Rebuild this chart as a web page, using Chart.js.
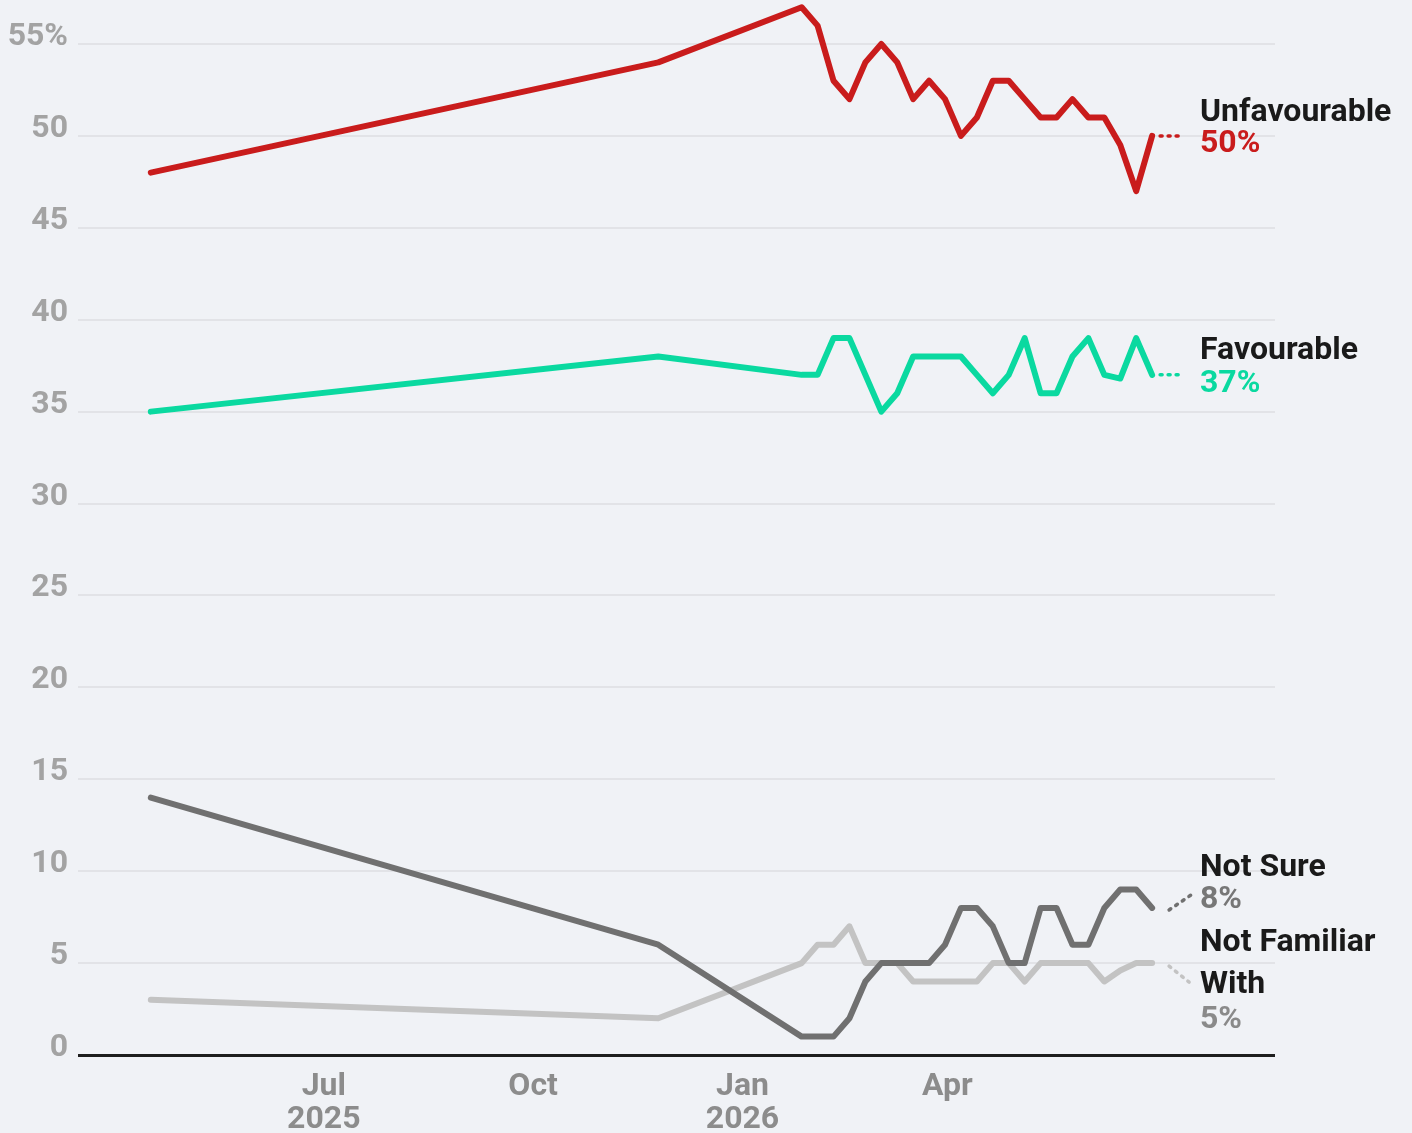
<!DOCTYPE html>
<html>
<head>
<meta charset="utf-8">
<script src="https://cdn.jsdelivr.net/npm/chart.js@4.4.1/dist/chart.umd.min.js"></script>
<style>
  html, body { margin: 0; padding: 0; background: #f0f2f6; }
  #wrap { width: 1412px; height: 1133px; }
</style>
</head>
<body>
<div id="wrap"><canvas id="pollChart"></canvas></div>
<script>
// poll dates
const dates = [
  "2025-04-16", "2025-11-25",
  "2026-01-27", "2026-02-03", "2026-02-10", "2026-02-17", "2026-02-24",
  "2026-03-03", "2026-03-10", "2026-03-17", "2026-03-24", "2026-03-31",
  "2026-04-07", "2026-04-14", "2026-04-21", "2026-04-28",
  "2026-05-05", "2026-05-12", "2026-05-19", "2026-05-26",
  "2026-06-02", "2026-06-09", "2026-06-16", "2026-06-23", "2026-06-30"
];
const unfavourable = [48, 54, 57, 56, 53, 52, 54, 55, 54, 52, 53, 52, 50, 51, 53, 53, 52, 51, 51, 52, 51, 51, 49.5, 47, 50];
const favourable   = [35, 38, 37, 37, 39, 39, 37, 35, 36, 38, 38, 38, 38, 37, 36, 37, 39, 36, 36, 38, 39, 37, 36.8, 39, 37];
const notSure      = [14, 6, 1, 1, 1, 2, 4, 5, 5, 5, 5, 6, 8, 8, 7, 5, 5, 8, 8, 6, 6, 8, 9, 9, 8];
const notFamiliar  = [3, 2, 5, 6, 6, 7, 5, 5, 5, 4, 4, 4, 4, 4, 5, 5, 4, 5, 5, 5, 5, 4, 4.6, 5, 5];

const seriesNames = ["Unfavourable", "Favourable", "Not Sure", "Not Familiar With"];

const tickDates = ["2025-07-01", "2025-10-01", "2026-01-01", "2026-04-01"];
const tickLabels = [["Jul", "2025"], ["Oct"], ["Jan", "2026"], ["Apr"]];
const yTicks = [0, 5, 10, 15, 20, 25, 30, 35, 40, 45, 50, 55];

const xMin = "2025-03-15";
const xMax = "2026-08-23";

// days since 2025-01-01
function toDay(s) {
  const p = s.split("-").map(Number);
  return (Date.UTC(p[0], p[1] - 1, p[2]) - Date.UTC(2025, 0, 1)) / 86400000;
}
const xs = dates.map(toDay);
const pts = arr => arr.map((v, i) => ({ x: xs[i], y: v }));

const colors = ["#c91c1c", "#0ad9a0", "#707070", "#c3c3c3"];
const pctColors = ["#c91c1c", "#0ad9a0", "#777777", "#8a8a8a"];

const bgPlugin = {
  id: "bg",
  beforeDraw(chart) {
    const c = chart.ctx;
    c.save();
    c.fillStyle = "#f0f2f6";
    c.fillRect(0, 0, chart.width, chart.height);
    c.restore();
  }
};

// end-of-line labels with dotted leaders
const endLabelPlugin = {
  id: "endLabels",
  afterDatasetsDraw(chart) {
    const c = chart.ctx;
    const textX = 1200;
    const layout = [
      { lead: [8, 0, 26, 0], names: [-15], pct: 16 },
      { lead: [8, 0, 26, 0], names: [-16], pct: 17 },
      { lead: [17, 2, 39, -13], names: [-32], pct: 0 },
      { lead: [17, 3, 37, 19], names: [-12, 30], pct: 65 }
    ];
    chart.data.datasets.forEach((ds, i) => {
      const meta = chart.getDatasetMeta(i);
      const last = meta.data[meta.data.length - 1];
      const L = layout[i];
      c.save();
      c.strokeStyle = colors[i];
      c.lineWidth = 3.5;
      c.lineCap = "round";
      c.setLineDash([2, 6]);
      c.beginPath();
      c.moveTo(last.x + L.lead[0], last.y + L.lead[1]);
      c.lineTo(last.x + L.lead[2], last.y + L.lead[3]);
      c.stroke();
      c.setLineDash([]);
      c.font = "bold 32px Roboto";
      c.textAlign = "left";
      c.textBaseline = "alphabetic";
      c.fillStyle = "#1a1a1a";
      const words = i === 3 ? ["Not Familiar", "With"] : [seriesNames[i]];
      words.forEach((w, k) => c.fillText(w, textX, last.y + L.names[k]));
      c.fillStyle = pctColors[i];
      const v = ds.data[ds.data.length - 1].y;
      c.fillText(Math.round(v) + "%", textX, last.y + L.pct);
      c.restore();
    });
  }
};

const line = (label, data, i, order) => ({
  label: label,
  data: pts(data),
  borderColor: colors[i],
  borderWidth: 6,
  borderCapStyle: "round",
  borderJoinStyle: "round",
  pointRadius: 0,
  tension: 0,
  fill: false,
  clip: false,
  order: order
});

new Chart(document.getElementById("pollChart"), {
  type: "line",
  data: {
    datasets: [
      line(seriesNames[0], unfavourable, 0, 1),
      line(seriesNames[1], favourable, 1, 2),
      line(seriesNames[2], notSure, 2, 3),
      line(seriesNames[3], notFamiliar, 3, 4)
    ]
  },
  options: {
    responsive: true,
    maintainAspectRatio: false,
    animation: false,
    layout: { padding: { top: 44, right: 137, left: 0, bottom: 0 } },
    plugins: {
      legend: { display: false },
      tooltip: { enabled: false }
    },
    scales: {
      x: {
        type: "linear",
        min: toDay(xMin),
        max: toDay(xMax),
        afterBuildTicks: axis => { axis.ticks = tickDates.map(d => ({ value: toDay(d) })); },
        afterFit: axis => { axis.height = 78; },
        grid: { display: false },
        border: { display: false },
        ticks: {
          padding: 7,
          maxRotation: 0,
          autoSkip: false,
          color: "#8c8c8c",
          font: { family: "Roboto", size: 32, weight: "bold", lineHeight: 1.05 },
          callback: (value, index) => tickLabels[index]
        }
      },
      y: {
        min: 0,
        max: 55,
        afterBuildTicks: axis => { axis.ticks = yTicks.map(v => ({ value: v })); },
        afterFit: axis => { axis.width = 78; },
        border: { display: false },
        grid: {
          drawTicks: false,
          color: ctx => ctx.tick.value === 0 ? "#1e1e1e" : "#e2e3e7",
          lineWidth: ctx => ctx.tick.value === 0 ? 3 : 2
        },
        ticks: {
          padding: 10,
          labelOffset: -7,
          color: "#a3a3a3",
          font: { family: "Roboto", size: 32, weight: "bold" },
          callback: v => v === 55 ? "55%" : v
        }
      }
    }
  },
  plugins: [bgPlugin, endLabelPlugin]
});
</script>
</body>
</html>
